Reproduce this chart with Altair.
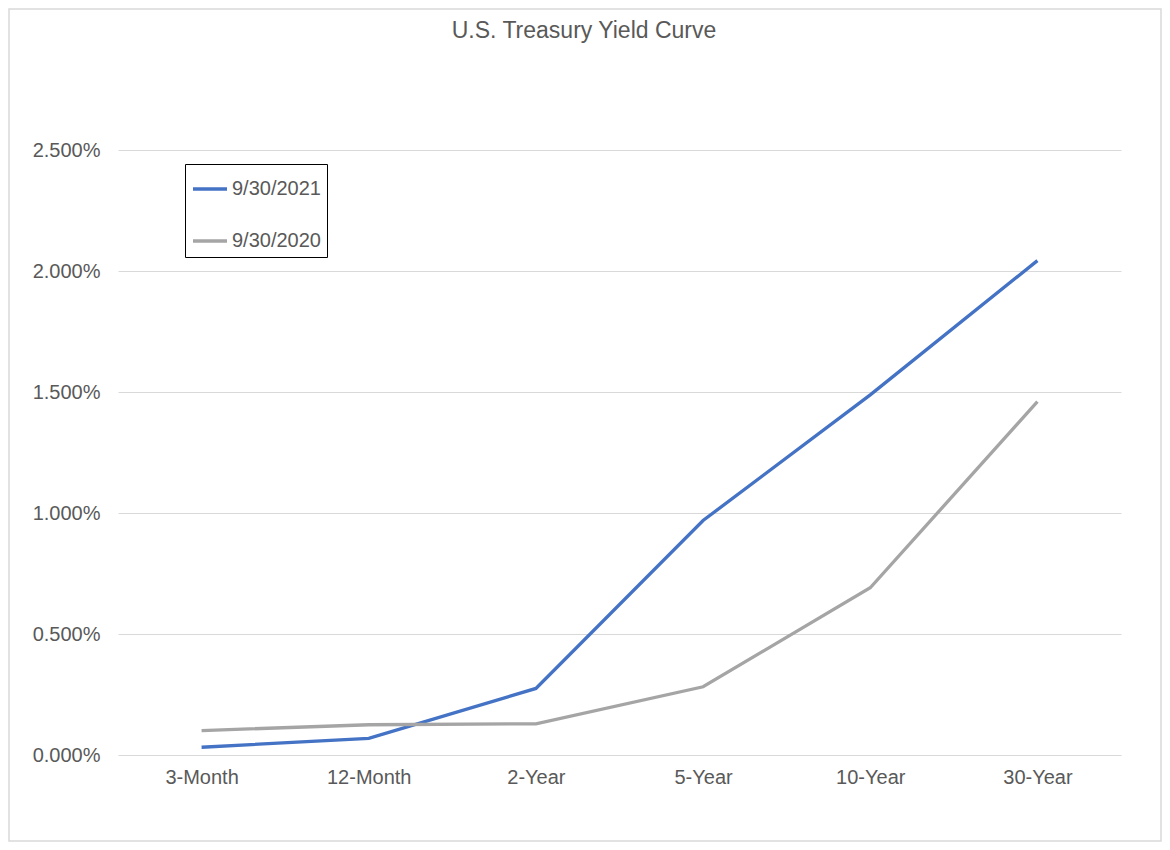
import altair as alt
import pandas as pd

maturities = ["3-Month", "12-Month", "2-Year", "5-Year", "10-Year", "30-Year"]
series_names = ["9/30/2021", "9/30/2020"]
yield_2021 = [0.032, 0.069, 0.275, 0.969, 1.488, 2.043]
yield_2020 = [0.101, 0.125, 0.129, 0.282, 0.691, 1.460]
colors = ["#4472C4", "#A5A5A5"]
y_ticks = [0.0, 0.005, 0.010, 0.015, 0.020, 0.025]
chart_title = "U.S. Treasury Yield Curve"

rows = []
for name, vals in zip(series_names, [yield_2021, yield_2020]):
    for i, (m, v) in enumerate(zip(maturities, vals)):
        rows.append({"Maturity": m, "Series": name, "Yield": v / 100.0, "order": i})
df = pd.DataFrame(rows)

FONT = "Liberation Sans"
TXT = "#595959"

lines = alt.Chart(df).mark_line(strokeWidth=3.3, clip=False).encode(
    x=alt.X("Maturity:N", sort=maturities,
            scale=alt.Scale(type="point", padding=0.5),
            axis=alt.Axis(title=None, labelAngle=0, domain=False, ticks=False,
                          labelPadding=12, labelFontSize=20, labelColor=TXT,
                          labelFont=FONT, grid=False)),
    y=alt.Y("Yield:Q", scale=alt.Scale(domain=[0, 0.025], nice=False),
            axis=alt.Axis(title=None, values=y_ticks, format=".3%", domain=False,
                          ticks=False, tickSize=0, labelPadding=18, labelFontSize=20,
                          labelColor=TXT, labelFont=FONT, grid=True,
                          gridColor="#d9d9d9", gridWidth=1)),
    color=alt.Color("Series:N", sort=series_names,
                    scale=alt.Scale(domain=series_names, range=colors),
                    legend=alt.Legend(title=None, orient="none", legendX=67, legendY=14,
                                      symbolType="stroke", symbolSize=1156,
                                      symbolStrokeWidth=3.3, labelFontSize=20,
                                      labelColor=TXT, labelFont=FONT,
                                      strokeColor="black", padding=6,
                                      rowPadding=23, labelOffset=3)),
    order="order:Q",
)

frame_df = pd.DataFrame({"a": [0]})
frame = alt.Chart(frame_df).mark_rect(fill=None, stroke="#d9d9d9", strokeWidth=1.5, clip=False).encode(
    x=alt.value(-109), x2=alt.value(1043), y=alt.value(-141), y2=alt.value(691)
)

title_df = pd.DataFrame({"t": [chart_title]})
title = alt.Chart(title_df).mark_text(font=FONT, fontSize=23, color=TXT,
                                      baseline="middle", align="center").encode(
    text="t:N", x=alt.value(466), y=alt.value(-119)
)

chart = alt.layer(frame, lines, title).properties(
    width=1003,
    height=605,
    autosize=alt.AutoSizeParams(type="none"),
    padding={"left": 110, "top": 142, "right": 41, "bottom": 87},
).configure(background="white").configure_view(stroke=None)

chart.save("out.html", embed_options={"renderer": "svg", "actions": False})
